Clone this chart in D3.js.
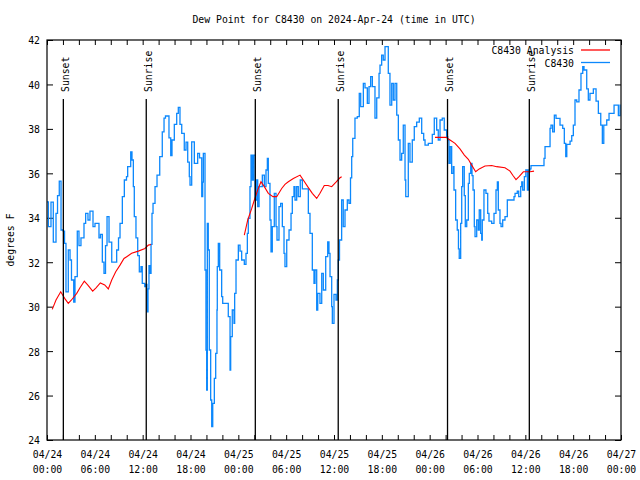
<!DOCTYPE html>
<html><head><meta charset="utf-8">
<script src="https://cdn.jsdelivr.net/npm/d3@7"></script>
<style>
body{margin:0;background:#fff}
text{font-family:"DejaVu Sans Mono","Liberation Mono",monospace;font-size:11px;fill:#000}
</style>
</head><body>
<svg id="chart" width="640" height="480"></svg>
<script>
const chartTitle = "Dew Point for C8430 on 2024-Apr-24 (time in UTC)";
const yAxisLabel = "degrees F";
const yTickValues = [24, 26, 28, 30, 32, 34, 36, 38, 40, 42];
const startUTC = Date.UTC(2024, 3, 24);
const endUTC = Date.UTC(2024, 3, 27);
const seriesNames = ["C8430 Analysis", "C8430"];
const seriesColors = ["#ff0000", "#0c88fc"];
// sun events: hours after 2024-04-24 00:00 UTC
const sunHours = [2.05, 12.45, 26.13, 36.53, 50.24, 60.5];
const sunLabels = ["Sunset", "Sunrise", "Sunset", "Sunrise", "Sunset", "Sunrise"];
// observed dew point [hours, degF]
const obsSeries = [[0,34.72],[0.17,33.6],[0.5,34.7],[0.79,32.9],[1.13,34.2],[1.32,35.0],[1.54,35.65],[1.76,33.45],[2.04,33.4],[2.2,32.85],[2.38,30.67],[2.67,32.55],[2.89,32.1],[3.07,31.2],[3.35,30.2],[3.51,31.35],[3.8,33.4],[4.01,32.75],[4.26,33.1],[4.64,33.75],[4.85,34.2],[5.14,33.9],[5.39,34.3],[5.77,33.6],[6.02,33.75],[6.52,33.1],[6.71,33.25],[6.94,32.0],[7.15,31.5],[7.34,32.75],[7.53,34.05],[7.78,32.9],[8.12,32.0],[8.53,32.0],[8.74,32.55],[8.97,33.1],[9.16,33.75],[9.45,34.95],[9.7,35.7],[9.97,35.85],[10.12,36.3],[10.5,36.97],[10.66,36.6],[10.83,35.4],[10.95,34.05],[11.16,33.1],[11.38,32.3],[11.58,31.57],[11.79,31.8],[11.95,31.05],[12.26,30.9],[12.42,31.0],[12.54,29.77],[12.67,30.8],[12.79,31.85],[12.92,31.5],[13.05,32.8],[13.17,34.2],[13.3,34.65],[13.55,35.4],[13.8,35.92],[14.14,36.75],[14.46,37.87],[14.68,38.48],[14.86,38.58],[15.14,38.58],[15.3,37.6],[15.52,36.8],[15.68,37.5],[15.97,38.2],[16.27,38.7],[16.47,38.97],[16.68,38.2],[16.9,37.8],[17.22,37.05],[17.44,37.4],[17.65,36.5],[17.85,35.85],[17.94,35.47],[18.15,37.42],[18.48,36.45],[18.9,36.9],[19.13,36.7],[19.41,34.95],[19.53,35.6],[19.61,36.9],[19.82,31.65],[19.94,28.05],[20.03,26.25],[20.11,33.75],[20.23,32.55],[20.36,28.05],[20.53,25.8],[20.66,24.6],[20.79,25.65],[20.99,26.77],[21.16,27.9],[21.32,29.85],[21.36,31.8],[21.49,32.85],[21.66,31.65],[21.91,30.45],[22.04,30.15],[22.62,30.15],[22.74,29.55],[22.96,27.15],[23.04,28.65],[23.24,29.85],[23.46,29.25],[23.54,30.6],[23.71,32.1],[24.0,32.77],[24.21,32.5],[24.42,32.1],[24.75,31.9],[24.96,32.4],[25.13,33.3],[25.25,33.97],[25.46,35.4],[25.59,36.82],[25.75,35.7],[25.88,36.82],[26.09,34.8],[26.31,35.7],[26.43,34.5],[26.6,35.4],[27.01,35.92],[27.26,35.4],[27.47,36.15],[27.64,36.67],[27.76,35.55],[27.97,33.9],[28.1,32.47],[28.26,33.6],[28.51,35.1],[28.73,33.6],[28.85,33.0],[29.1,34.5],[29.31,34.65],[29.52,33.6],[29.73,32.4],[29.85,31.8],[30.07,33.0],[30.36,33.45],[30.61,34.2],[30.77,34.95],[30.98,35.4],[31.11,34.8],[31.32,35.4],[31.52,34.95],[31.77,35.7],[32.03,35.3],[32.45,35.3],[32.78,34.2],[32.99,33.3],[33.28,31.65],[33.49,31.05],[33.62,31.65],[33.83,29.85],[33.96,30.6],[34.24,30.15],[34.46,31.5],[34.66,30.75],[34.96,32.25],[35.21,32.92],[35.37,32.4],[35.5,31.35],[35.71,30.0],[35.79,29.25],[36.0,30.55],[36.25,30.3],[36.42,31.2],[36.54,32.1],[36.69,33.0],[36.96,34.8],[37.16,33.6],[37.38,34.35],[37.67,34.8],[37.88,34.65],[38.07,35.8],[38.22,36.75],[38.35,37.57],[38.63,38.48],[38.92,38.55],[39.17,39.6],[39.35,39.0],[39.68,40.05],[39.89,39.85],[40.18,39.15],[40.39,39.9],[40.6,40.35],[40.81,39.9],[41.14,38.48],[41.36,39.4],[41.65,40.5],[41.77,40.87],[41.98,41.32],[42.18,41.1],[42.4,41.7],[42.69,41.7],[42.81,40.5],[43.02,39.07],[43.24,40.05],[43.44,39.3],[43.65,40.05],[43.87,38.62],[44.07,37.5],[44.28,36.6],[44.49,36.9],[44.69,38.17],[44.91,35.7],[45.0,34.95],[45.32,37.35],[45.53,36.5],[45.82,37.5],[46.07,38.1],[46.37,38.3],[46.7,38.48],[47.0,37.8],[47.25,37.5],[47.42,37.27],[47.83,37.35],[48.33,37.75],[48.58,38.48],[48.88,37.95],[49.08,37.5],[49.3,38.4],[49.58,38.48],[49.83,37.95],[50.13,37.65],[50.26,37.5],[50.42,36.45],[50.58,37.2],[50.76,36.0],[50.96,36.3],[51.05,35.25],[51.26,33.9],[51.46,33.45],[51.61,32.6],[51.71,32.17],[51.89,33.75],[52.02,35.4],[52.14,36.3],[52.34,35.0],[52.47,33.6],[52.65,33.9],[52.85,35.55],[52.97,36.0],[53.15,36.45],[53.31,35.9],[53.44,35.25],[53.6,33.6],[53.69,33.15],[53.9,33.9],[54.1,33.45],[54.22,34.35],[54.4,33.3],[54.53,33.0],[54.6,33.9],[54.81,35.25],[55.06,35.1],[55.28,34.2],[55.44,33.85],[55.78,33.75],[56.07,34.2],[56.32,35.25],[56.49,35.62],[56.61,34.35],[56.82,33.75],[56.95,33.6],[57.16,33.9],[57.45,34.05],[57.74,34.8],[58.58,34.95],[58.71,35.1],[58.99,35.2],[59.17,34.95],[59.42,35.4],[59.55,35.62],[59.67,35.25],[59.88,35.85],[60.06,36.15],[60.26,35.25],[60.43,36.15],[60.59,36.2],[60.71,36.35],[62.18,36.35],[62.34,36.67],[62.47,37.2],[62.97,37.2],[63.1,38.02],[63.22,38.17],[63.43,37.87],[63.64,38.62],[63.85,38.47],[64.35,38.17],[64.69,38.02],[64.89,37.35],[65.07,36.75],[65.2,37.3],[65.61,37.45],[65.82,37.7],[66.02,38.17],[66.23,39.3],[66.45,39.22],[66.73,39.75],[66.98,40.5],[67.2,40.8],[67.36,40.65],[67.7,39.8],[67.9,39.3],[68.11,39.6],[68.53,39.8],[68.87,39.25],[69.16,38.7],[69.46,38.17],[69.66,37.35],[69.84,38.17],[70.21,38.4],[70.5,38.7],[71.13,39.07],[71.47,39.07],[71.67,38.6],[71.88,39.1]];
// analysis dew point [hours, degF]; null = no analysis
const anaSeries = [[0.66,29.88],[1.13,30.3],[1.72,30.67],[2.0,30.5],[2.26,30.35],[2.67,30.15],[3.07,30.3],[3.73,30.6],[4.14,30.85],[4.68,31.15],[5.1,30.98],[5.73,30.7],[6.15,30.85],[6.69,31.07],[7.24,30.98],[7.69,30.8],[8.12,31.2],[8.62,31.57],[9.16,31.87],[9.66,32.17],[10.0,32.25],[10.62,32.4],[11.45,32.5],[12.29,32.62],[12.71,32.77],[13.05,32.8],[18,null],[24.75,33.22],[25.18,33.9],[25.68,34.42],[26.01,34.8],[26.43,35.25],[26.84,35.62],[27.26,35.4],[27.76,35.1],[28.35,34.95],[28.81,34.95],[29.44,35.32],[29.85,35.5],[30.27,35.62],[30.9,35.77],[31.74,35.92],[32.15,35.7],[32.7,35.4],[33.28,35.1],[33.83,34.87],[34.24,35.1],[34.78,35.45],[35.25,35.45],[35.71,35.4],[36.25,35.6],[36.75,35.8],[36.96,35.85],[42,null],[48.67,37.62],[49.55,37.62],[50.05,37.62],[50.55,37.5],[51.18,37.35],[51.8,37.1],[52.35,36.82],[52.85,36.63],[53.27,36.37],[53.77,36.07],[54.22,36.2],[54.94,36.33],[55.78,36.35],[56.41,36.3],[57.45,36.25],[58.08,36.1],[58.45,35.9],[58.83,35.72],[59.21,35.85],[59.75,36.07],[60.59,36.07],[61.09,36.1]];

const CW = 5.9; // char advance of the original font
const svg = d3.select("#chart");
const L = 47, R = 621, T = 40, B = 440;
const toDate = h => new Date(startUTC + h * 3600e3);
const x = d3.scaleUtc().domain([new Date(startUTC), new Date(endUTC)]).range([L, R]);
const y = d3.scaleLinear().domain([24, 42]).range([B, T]);

function fit(sel) {
  sel.each(function() {
    const t = d3.select(this).text();
    d3.select(this).attr("textLength", t.length * CW).attr("lengthAdjust", "spacingAndGlyphs");
  });
}

// title
svg.append("text").attr("x", (L + R) / 2).attr("y", 23).attr("text-anchor", "middle")
  .text(chartTitle).call(fit);

// y label
svg.append("text").attr("transform", `translate(14,${(T + B) / 2}) rotate(-90)`)
  .attr("text-anchor", "middle").text(yAxisLabel).call(fit);

// axes ticks (inward)
const g = svg.append("g");
const tickStyle = s => { s.select(".domain").remove(); s.selectAll("line").attr("stroke", "#000"); };
g.append("g").attr("transform", `translate(0,${B})`)
  .call(d3.axisBottom(x).ticks(d3.utcHour.every(2)).tickSize(-5).tickFormat(() => "")).call(tickStyle);
g.append("g").attr("transform", `translate(0,${T})`)
  .call(d3.axisTop(x).ticks(d3.utcHour.every(2)).tickSize(-5).tickFormat(() => "")).call(tickStyle);
const yl = g.append("g").attr("transform", `translate(${L},0)`)
  .call(d3.axisLeft(y).tickValues(yTickValues).tickSize(-6).tickPadding(7).tickFormat(d3.format("d"))).call(tickStyle);
yl.selectAll("text").attr("font-family", null).attr("font-size", null).attr("dy", "0.36em").call(fit);
g.append("g").attr("transform", `translate(${R},0)`)
  .call(d3.axisRight(y).tickValues(yTickValues).tickSize(-6).tickFormat(() => "")).call(tickStyle);

// x labels (two lines)
const xl = g.append("g").attr("transform", `translate(0,${B})`)
  .call(d3.axisBottom(x).ticks(d3.utcHour.every(6)).tickSize(0).tickFormat(d3.utcFormat("%m/%d")));
xl.select(".domain").remove();
xl.selectAll("text").attr("font-family", null).attr("font-size", null).attr("y", 18).attr("dy", null).call(fit);
xl.selectAll(".tick").append("text").attr("y", 33).attr("text-anchor", "middle")
  .text(d => d3.utcFormat("%H:%M")(d)).call(fit);
xl.attr("font-family", null).attr("font-size", null);
yl.attr("font-family", null).attr("font-size", null);

// clip
svg.append("clipPath").attr("id", "clip").append("rect").attr("x", L).attr("y", T).attr("width", R - L).attr("height", B - T);
const plot = svg.append("g").attr("clip-path", "url(#clip)");

// observed series
const obsLine = d3.line().x(d => x(toDate(d[0]))).y(d => y(d[1])).curve(d3.curveStepAfter);
plot.append("path").datum(obsSeries).attr("d", obsLine).attr("fill", "none")
  .attr("stroke", seriesColors[1]).attr("stroke-width", 1.3);

// analysis series
const anaLine = d3.line().defined(d => d[1] != null).x(d => x(toDate(d[0]))).y(d => y(d[1]));
plot.append("path").datum(anaSeries).attr("d", anaLine).attr("fill", "none")
  .attr("stroke", seriesColors[0]).attr("stroke-width", 1.1);

// sun events
const sun = svg.append("g").selectAll("g").data(sunHours).join("g");
sun.append("line").attr("x1", d => x(toDate(d))).attr("x2", d => x(toDate(d)))
  .attr("y1", 99).attr("y2", B).attr("stroke", "#000").attr("stroke-width", 1.3);
sun.append("text").attr("transform", d => `translate(${x(toDate(d)) + 5.5},92) rotate(-90)`)
  .text((d, i) => sunLabels[i]).call(fit);

// frame
svg.append("rect").attr("x", L).attr("y", T).attr("width", R - L).attr("height", B - T)
  .attr("fill", "none").attr("stroke", "#000").attr("stroke-width", 1.2);

// legend
const legY = [50, 62.5];
seriesNames.forEach((name, i) => {
  svg.append("text").attr("x", 574).attr("y", legY[i] + 4).attr("text-anchor", "end").text(name).call(fit);
  svg.append("line").attr("x1", 581).attr("x2", 610).attr("y1", legY[i]).attr("y2", legY[i])
    .attr("stroke", seriesColors[i]).attr("stroke-width", 1.3);
});
</script>
</body></html>
